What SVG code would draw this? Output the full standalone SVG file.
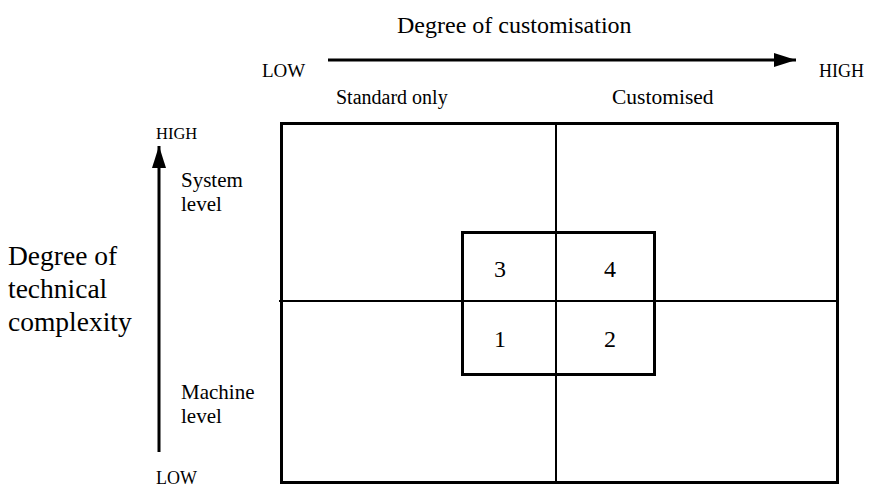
<svg xmlns="http://www.w3.org/2000/svg" width="872" height="489" viewBox="0 0 872 489">
<style>
text{font-family:"Liberation Serif","Times New Roman",serif;fill:#000}
.title{font-size:24px}
.big{font-size:27.5px}
.md{font-size:21px}
.num{font-size:24px;text-anchor:middle}
.thick{fill:none;stroke:#000;stroke-width:3}
.thin{fill:none;stroke:#000;stroke-width:2}
</style>
<defs>
<marker id="ahb" viewBox="0 0 22 14" refX="22" refY="7" markerWidth="22" markerHeight="14" markerUnits="userSpaceOnUse" orient="auto">
<path d="M0,0 L22,7 L0,14 z" fill="#000"/>
</marker>
</defs>
<g id="labels">
<text class="title" x="397" y="33">Degree of customisation</text>
<text x="262" y="77" font-size="19">LOW</text>
<text x="819" y="77" font-size="18">HIGH</text>
<text x="336" y="104" font-size="20">Standard only</text>
<text x="612" y="104" font-size="21.5">Customised</text>
<text x="156" y="139" font-size="16.5">HIGH</text>
<text x="156" y="484" font-size="18">LOW</text>
<text class="md" x="181" y="187">System</text>
<text class="md" x="181" y="211">level</text>
<text class="md" x="181" y="399">Machine</text>
<text class="md" x="181" y="423">level</text>
<text class="big" x="8" y="265">Degree of</text>
<text class="big" x="8" y="298">technical</text>
<text class="big" x="8" y="331">complexity</text>
</g>
<g id="connectors">
<line x1="328" y1="60" x2="796" y2="60" stroke="#000" stroke-width="3" marker-end="url(#ahb)"/>
<line x1="159" y1="452" x2="159" y2="146" stroke="#000" stroke-width="3" marker-end="url(#ahb)"/>
</g>
<g id="grid">
<rect class="thick" x="281.5" y="123.5" width="556" height="359"/>
<line class="thin" x1="556" y1="123" x2="556" y2="483"/>
<line class="thin" x1="279" y1="301" x2="837" y2="301"/>
</g>
<g id="inner">
<rect class="thick" x="462.5" y="232.5" width="192" height="142"/>
<text class="num" x="500" y="277">3</text>
<text class="num" x="610" y="277">4</text>
<text class="num" x="500" y="347">1</text>
<text class="num" x="610" y="347">2</text>
</g>
</svg>
